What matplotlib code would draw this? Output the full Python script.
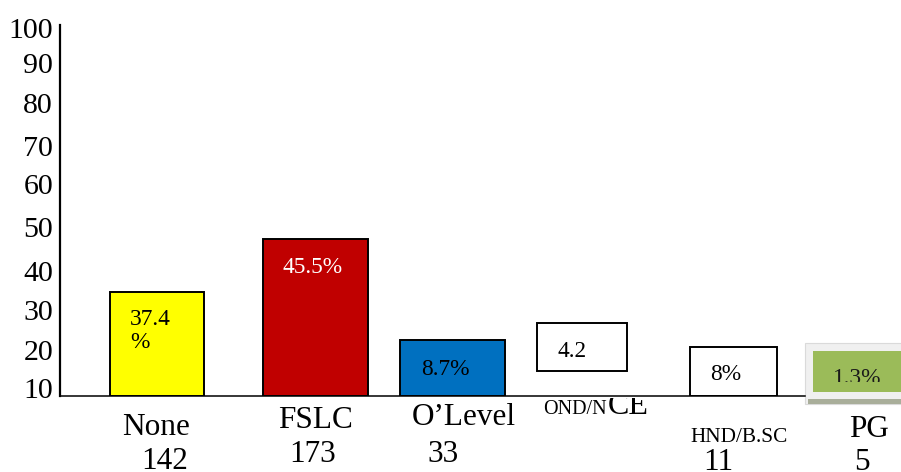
import matplotlib
matplotlib.use("Agg")
import matplotlib.pyplot as plt
from matplotlib import transforms as mtransforms
from matplotlib.patches import Rectangle
from matplotlib.transforms import Bbox

# ---- data -------------------------------------------------------------
categories = ["None", "FSLC", "O\u2019Level", "OND/NCE", "HND/B.SC", "PG"]
counts = ["142", "173", "33", "", "11", "5"]
bar_tops = [35.6, 48.5, 23.8, 27.9, 22.0, 21.1]
bar_bottoms = [10.0, 10.0, 10.0, 16.1, 10.0, 11.0]
value_labels = ["37.4\n%", "45.5%", "8.7%", "4.2", "8%", "1.3%"]
ytick_labels = ["10", "20", "30", "40", "50", "60", "70", "80", "90", "100"]

# ---- layout / style ---------------------------------------------------
W, H = 901, 472
SERIF = "Liberation Serif"
bar_x = [157, 315.5, 453, 582, 733.5, 857]
bar_w = [94, 105, 105, 90, 87, 88]
bar_colors = ["#ffff00", "#c00000", "#0070c0", "#ffffff", "#ffffff", "#9bbb59"]
bar_edges = ["black", "black", "black", "black", "black", "none"]
ytick_pos = [12.0, 21.3, 31.1, 40.7, 51.6, 62.1, 71.5, 82.0, 92.0, 100.5]

fig = plt.figure(figsize=(W / 100, H / 100), dpi=100)
ax = fig.add_axes([60 / W, (H - 396) / H, (W - 60) / W, 371 / H])
ax.set_xlim(60, W)
ax.set_ylim(10, 10 + 371 / 4.0667)
ax.set_facecolor("none")

# shaded frame behind the PG bar
pg = len(categories) - 1
pg_left = bar_x[pg] - bar_w[pg] / 2
ax.add_patch(Rectangle((pg_left - 8, 8.0), 120, bar_tops[pg] + 2.0 - 8.0,
                       facecolor="#f0f0f0", edgecolor="#dadada", lw=0.8,
                       clip_on=False, zorder=1))
ax.add_patch(Rectangle((pg_left - 5, 8.0), 120, 1.3,
                       facecolor="#a9ae9a", edgecolor="none",
                       clip_on=False, zorder=1.1))

heights = [t - b for t, b in zip(bar_tops, bar_bottoms)]
ax.bar(bar_x, heights, width=bar_w, bottom=bar_bottoms, color=bar_colors,
       edgecolor=bar_edges, linewidth=1.4, zorder=2)

for s in ("top", "right"):
    ax.spines[s].set_visible(False)
ax.spines["left"].set_linewidth(1.6)
ax.spines["bottom"].set_linewidth(1.1)
ax.spines["bottom"].set_bounds(60, pg_left - 8)
ax.spines["bottom"].set_zorder(3)
ax.set_xticks([])
ax.set_yticks(ytick_pos, ytick_labels)
ax.tick_params(axis="y", length=0, pad=5)
for lab in ax.get_yticklabels():
    lab.set_fontfamily(SERIF)
    lab.set_fontsize(21.5)

# text placed in pixel units measured from the top-left corner
px = mtransforms.Affine2D().scale(1 / W, -1 / H).translate(0, 1) + fig.transFigure


def put(x, y, s, size, ha="center", color="black", clip=None):
    t = fig.text(x, y, s, transform=px, fontsize=size, family=SERIF,
                 va="baseline", ha=ha, color=color)
    if clip is not None:
        t.set_clip_on(True)
        t.set_clip_box(Bbox.from_extents(*clip))
    return t


# value labels inside the boxes
val_pos = [(130, 325, "left"), (313, 273, "center"), (445, 375, "center"),
           (572, 357, "center"), (726, 380, "center"), (857, 384, "center")]
val_colors = ["black", "white", "black", "black", "black", "#1a1a1a"]
for i, (lbl, (x, y, ha)) in enumerate(zip(value_labels, val_pos)):
    clip = (0, H - 382, W, H) if i == pg else None
    for k, line in enumerate(lbl.split("\n")):
        put(x, y + 23 * k, line, 16.8, ha=ha, color=val_colors[i], clip=clip)

# category names and counts
name_pos = [(156, 435), (316, 428), (464, 425), (543, 414), (739, 442), (869, 437)]
count_pos = [(165, 469), (313, 462), (443, 462), None, (718, 470), (862, 470)]
for name, cnt, npos, cpos in zip(categories, counts, name_pos, count_pos):
    if name == "OND/NCE":
        put(npos[0], npos[1], name[:5], 14.5, ha="left")
        put(npos[0] + 65, npos[1], name[5:], 23, ha="left",
            clip=(0, 0, W, H - 398))
    elif name == "HND/B.SC":
        put(npos[0], npos[1], name, 15.3)
    else:
        put(npos[0], npos[1], name, 22.5)
    if cnt and cpos is not None:
        put(cpos[0], cpos[1], cnt, 22.5)

fig.savefig("out.png", dpi=100)
